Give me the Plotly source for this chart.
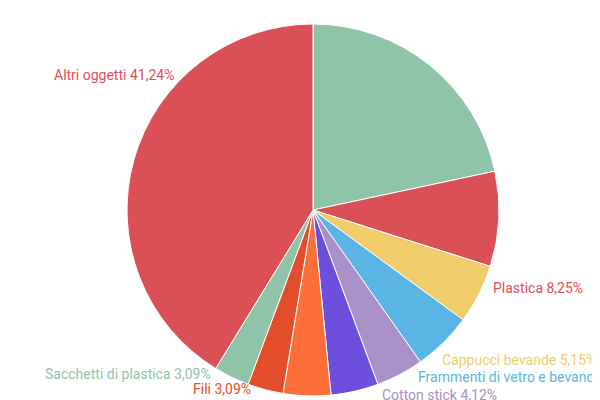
import plotly.graph_objects as go

labels = ["Mozziconi di sigaretta", "Plastica", "Cappucci bevande", "Frammenti di vetro e bevande",
          "Cotton stick", "Tappi e coperchi", "Polistirolo", "Fili", "Sacchetti di plastica", "Altri oggetti"]
counts = [21, 8, 5, 5, 4, 4, 4, 3, 3, 40]
pct_text = ["21,65%", "8,25%", "5,15%", "5,15%", "4,12%", "4,12%", "4,12%", "3,09%", "3,09%", "41,24%"]
colors = ["#8fc4a8", "#db5057", "#f0cc6a", "#5ab4e5", "#a990c9", "#6e4fdd", "#fd6f3a", "#e34d2a", "#8fc4a8", "#db5057"]

fig = go.Figure(go.Pie(
    labels=labels, values=counts, sort=False, direction="clockwise", rotation=0,
    marker=dict(colors=colors, line=dict(color="white", width=1)),
    textinfo="none", hoverinfo="label+percent", showlegend=False,
    domain=dict(x=[(305 - 186) / 600, (305 + 186) / 600], y=[1 - 388 / 400, 1 - 16 / 400]),
))

# label placement (pixel anchors: x, y, xanchor)
label_px = {1: (483, 280, "left"), 2: (432, 352, "left"), 3: (408, 369, "left"),
            4: (372, 387, "left"), 7: (245, 381, "right"), 8: (205, 366, "right"),
            9: (168, 67, "right")}
for i, (px, py, anc) in label_px.items():
    fig.add_annotation(x=px / 600, y=1 - py / 400, xref="paper", yref="paper",
                       text=f"{labels[i]} {pct_text[i]}", showarrow=False, xanchor=anc,
                       yanchor="middle", font=dict(color=colors[i], size=14, family="Roboto"))

fig.update_layout(width=600, height=400, margin=dict(l=0, r=0, t=0, b=0),
                  paper_bgcolor="white", plot_bgcolor="white", separators=",.")
fig.write_html("out.html")
